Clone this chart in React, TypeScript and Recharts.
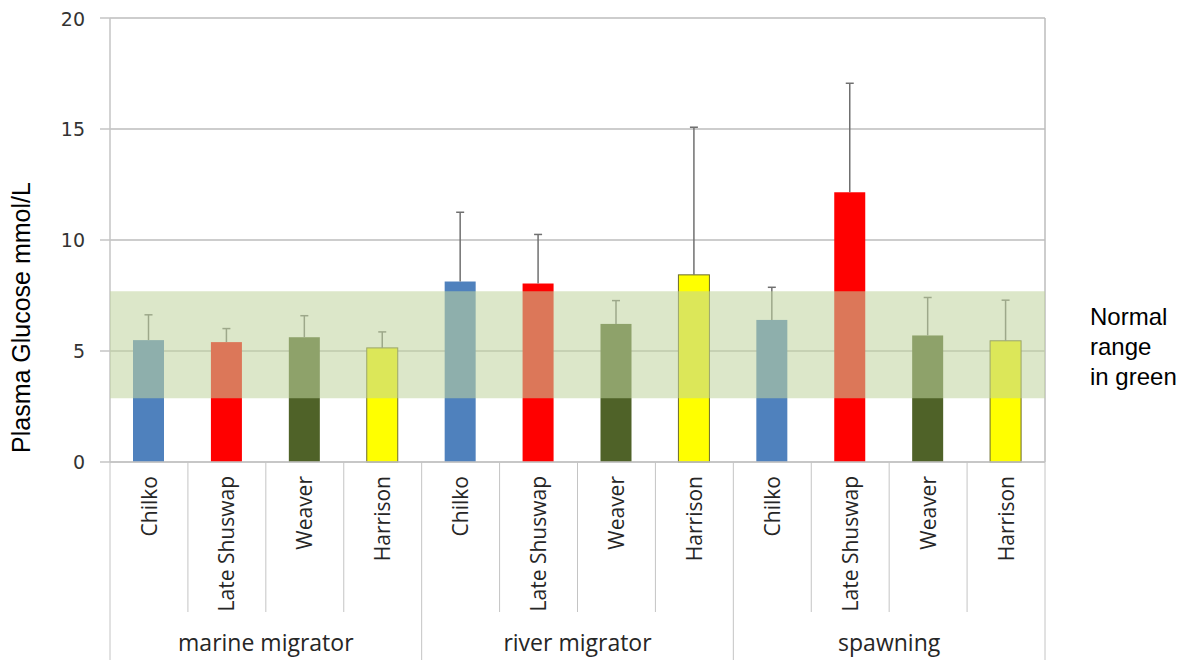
import { Bar, BarChart, CartesianGrid, ReferenceArea, XAxis, YAxis } from "recharts";

// Plasma glucose by stock and migration stage; green band is the normal range.
const sites = [
  "Chilko", "Late Shuswap", "Weaver", "Harrison",
  "Chilko", "Late Shuswap", "Weaver", "Harrison",
  "Chilko", "Late Shuswap", "Weaver", "Harrison",
];
const stages = ["marine migrator", "river migrator", "spawning"];
const glucose = [5.49, 5.4, 5.62, 5.14, 8.13, 8.04, 6.22, 8.43, 6.4, 12.15, 5.7, 5.46];
const upperSd = [1.14, 0.61, 0.97, 0.72, 3.12, 2.21, 1.05, 6.65, 1.47, 4.91, 1.71, 1.83];
const siteColors = ["#4f81bd", "#ff0000", "#4f6228", "#ffff00"];
const normalRange = [2.87, 7.69];
const yTicks = [0, 5, 10, 15, 20];

const W = 1181;
const H = 654;
const M = { top: 10, right: 144, bottom: 0, left: 0 };
const Y_W = 102;
const STEP = (W - M.left - M.right - Y_W) / sites.length;
const LINE = "#c4c4c4";

const data = sites.map((site, i) => ({
  site,
  stage: stages[Math.floor(i / 4)],
  glucose: glucose[i],
  sd: upperSd[i],
  color: siteColors[i % 4],
}));

function BarWithError(props: any) {
  const { x, y, width, height, payload } = props;
  if (height == null || height <= 0) return null;
  const perUnit = height / payload.glucose;
  const top = y - payload.sd * perUnit;
  const cx = x + width / 2;
  const yellow = payload.color === "#ffff00";
  return (
    <g>
      <rect
        x={x}
        y={y}
        width={width}
        height={height}
        fill={payload.color}
        stroke={yellow ? "#6b6b2a" : "none"}
        strokeWidth={1}
      />
      <line x1={cx} x2={cx} y1={y} y2={top} stroke="#707070" strokeWidth={1.5} />
      <line x1={cx - 4} x2={cx + 4} y1={top} y2={top} stroke="#707070" strokeWidth={1.5} />
    </g>
  );
}

function SiteTick(props: any) {
  const { x, y, index, payload } = props;
  const left = x - STEP / 2;
  const groupEdge = index % 4 === 0;
  const last = index === sites.length - 1;
  return (
    <g>
      <line x1={left} x2={left} y1={y} y2={y + (groupEdge ? 198 : 150)} stroke={LINE} />
      {last && <line x1={x + STEP / 2} x2={x + STEP / 2} y1={y} y2={y + 198} stroke={LINE} />}
      <text
        transform={`translate(${x},${y + 14}) rotate(-90)`}
        textAnchor="end"
        dy="0.36em"
        fontFamily="Open Sans"
        fontSize={21}
        fill="#262626"
      >
        {payload.value}
      </text>
      {index % 4 === 1 && (
        <text
          x={x + STEP / 2}
          y={y + 189}
          textAnchor="middle"
          fontFamily="Open Sans"
          fontSize={23}
          fill="#262626"
        >
          {data[index].stage}
        </text>
      )}
    </g>
  );
}

export default function App() {
  return (
    <div style={{ position: "relative", width: W, height: H }}>
      <BarChart width={W} height={H} data={data} margin={M} barSize={31}>
        <CartesianGrid
          horizontal
          vertical
          verticalCoordinatesGenerator={({ offset }: any) => [offset.left + offset.width]}
          stroke="#bdbdbd"
          strokeWidth={1.5}
        />
        <XAxis
          dataKey="site"
          height={200}
          interval={0}
          tickLine={false}
          tickSize={0}
          tickMargin={0}
          axisLine={{ stroke: LINE, strokeWidth: 1.5 }}
          tick={<SiteTick />}
        />
        <YAxis
          width={Y_W}
          domain={[0, 20]}
          ticks={yTicks}
          tickSize={10}
          tickMargin={15}
          axisLine={{ stroke: LINE, strokeWidth: 1.5 }}
          tickLine={{ stroke: LINE, strokeWidth: 1.5 }}
          tick={{ fontFamily: "DejaVu Sans", fontSize: 19, fill: "#333" }}
        />
        <Bar dataKey="glucose" isAnimationActive={false} shape={<BarWithError />} />
        <ReferenceArea
          y1={normalRange[0]}
          y2={normalRange[1]}
          fill="#c1d49f"
          fillOpacity={0.56}
          stroke="none"
          ifOverflow="visible"
          zIndex={1000}
        />
      </BarChart>
      <div
        style={{
          position: "absolute",
          left: 1,
          top: 445,
          transform: "rotate(-90deg)",
          transformOrigin: "0 0",
          whiteSpace: "nowrap",
          fontFamily: "Liberation Sans",
          fontSize: 25,
          lineHeight: "25px",
          color: "#000",
        }}
      >
        Plasma Glucose mmol/L
      </div>
      <div
        style={{
          position: "absolute",
          left: 1082,
          top: 294,
          fontFamily: "Liberation Sans",
          fontSize: 24,
          lineHeight: "30px",
          color: "#000",
        }}
      >
        Normal
        <br />
        range
        <br />
        in green
      </div>
    </div>
  );
}
